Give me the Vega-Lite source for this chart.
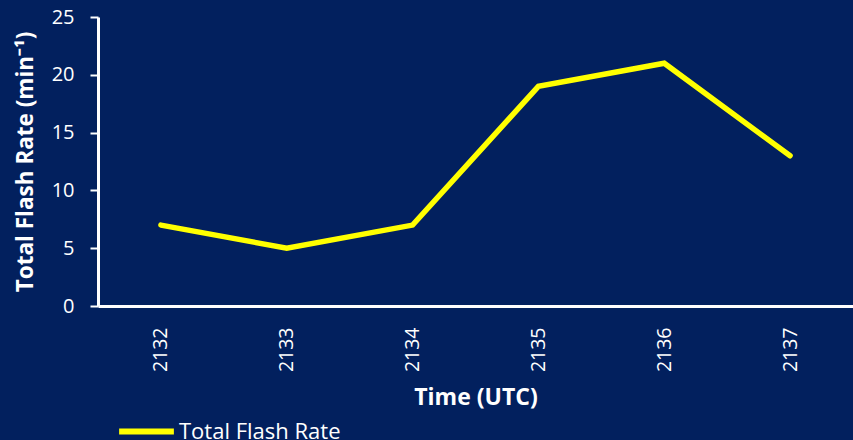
{
  "$schema": "https://vega.github.io/schema/vega-lite/v6.json",
  "width": 755,
  "height": 289,
  "autosize": {"type": "none"},
  "padding": {"left": 98, "top": 17, "right": 0, "bottom": 134},
  "background": "#02205E",
  "config": {
    "view": {"stroke": null},
    "font": "Open Sans"
  },
  "data": {
    "values": [
      {"time": "2132", "rate": 7, "series": "Total Flash Rate"},
      {"time": "2133", "rate": 5, "series": "Total Flash Rate"},
      {"time": "2134", "rate": 7, "series": "Total Flash Rate"},
      {"time": "2135", "rate": 19, "series": "Total Flash Rate"},
      {"time": "2136", "rate": 21, "series": "Total Flash Rate"},
      {"time": "2137", "rate": 13, "series": "Total Flash Rate"}
    ]
  },
  "mark": {"type": "line", "strokeWidth": 5.5, "strokeCap": "round", "strokeJoin": "miter"},
  "encoding": {
    "x": {
      "field": "time", "type": "ordinal",
      "scale": {"type": "point", "padding": 0.5},
      "axis": {
        "title": "Time (UTC)", "titleFontSize": 23, "titleFontWeight": "bold", "titleColor": "white", "titlePadding": 15,
        "labelAngle": -90, "labelFontSize": 19.5, "labelColor": "white", "labelPadding": 21,
        "ticks": false, "domainColor": "white", "domainWidth": 3
      }
    },
    "y": {
      "field": "rate", "type": "quantitative",
      "scale": {"domain": [0, 25]},
      "axis": {
        "title": "Total Flash Rate (min⁻¹)", "titleFontSize": 22.5, "titleFontWeight": "bold", "titleColor": "white", "titlePadding": 14,
        "values": [0, 5, 10, 15, 20, 25],
        "labelFontSize": 20, "labelColor": "white", "labelPadding": 16,
        "tickSize": 8, "tickColor": "white", "tickWidth": 2,
        "domainColor": "white", "domainWidth": 3, "grid": false
      }
    },
    "color": {
      "field": "series", "type": "nominal",
      "scale": {"range": ["#FFFF00"]},
      "legend": {
        "title": null, "orient": "none", "legendX": 18, "legendY": 384,
        "symbolType": "stroke", "symbolSize": 3000, "symbolStrokeWidth": 6,
        "labelFontSize": 22, "labelColor": "white", "labelOffset": 2, "labelLimit": 400
      }
    }
  }
}
